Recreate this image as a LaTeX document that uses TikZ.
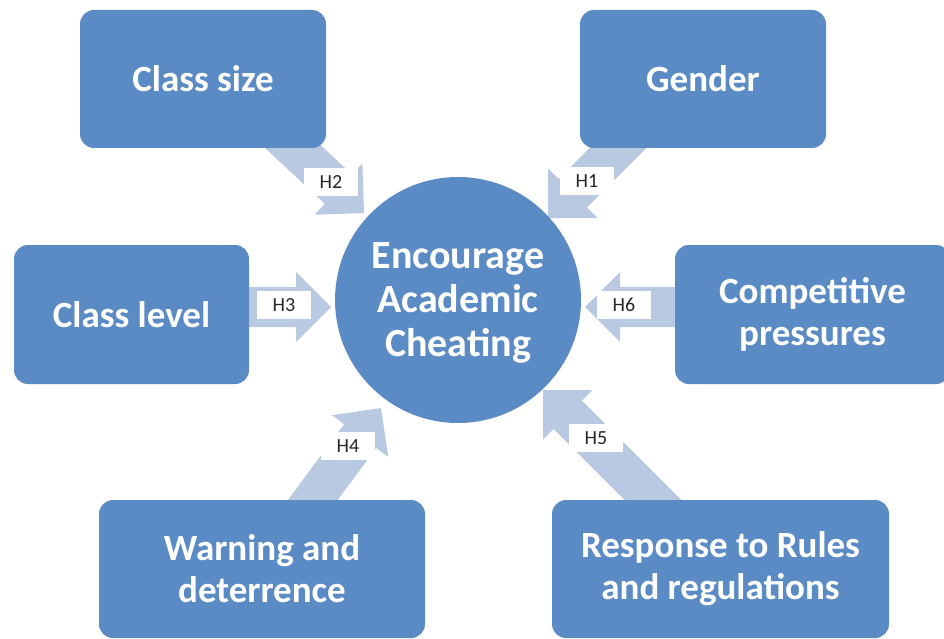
\documentclass[tikz,border=0pt]{standalone}
\usepackage{fontspec}
\setmainfont{Carlito}
\usetikzlibrary{calc}
\definecolor{boxblue}{RGB}{91,139,197}
\definecolor{arrowblue}{RGB}{185,201,226}

\begin{document}
\begin{tikzpicture}[x=1pt, y=-1pt,
	factor node/.style={shape=rectangle, fill=boxblue, rounded corners=14pt, inner sep=0, text=white, align=center, font=\fontsize{37}{42}\selectfont\bfseries},
	goal node/.style={shape=circle, fill=boxblue, minimum size=246pt, inner sep=0, text depth=0pt, text=white, align=center, font=\fontsize{40}{44}\selectfont\bfseries},
	hyp node/.style={shape=rectangle, fill=white, minimum width=54pt, minimum height=28pt, inner sep=0, text=black!85, font=\fontsize{20}{24}\selectfont}, ]
		\useasboundingbox (0,0) rectangle (944,639);
		
		%arrow ends (tail hidden under the boxes)
		\coordinate (t1) at (650,116); \coordinate (h1) at (548,218);
		\coordinate (t2) at (259,115); \coordinate (h2) at (364,213);
		\coordinate (t3) at (240,307); \coordinate (h3) at (331,307);
		\coordinate (t4) at (295,524); \coordinate (h4) at (381,408);
		\coordinate (t5) at (668,515); \coordinate (h5) at (543,390);
		\coordinate (t6) at (685,307); \coordinate (h6) at (585,307);
		
		%block arrows
		\foreach \n in {1,...,6}
		{
			\coordinate (b\n) at ($(h\n)!35pt!(t\n)$);
			\fill[arrowblue] ($(t\n)!20pt!90:(h\n)$) -- ($(b\n)!20pt!90:(h\n)$) -- ($(b\n)!35pt!90:(h\n)$) -- (h\n)
				-- ($(b\n)!35pt!-90:(h\n)$) -- ($(b\n)!20pt!-90:(h\n)$) -- ($(t\n)!20pt!-90:(h\n)$) -- cycle;
		}
		
		%factors
		\node[goal node] (goal) at (458,300){Encourage\\Academic\\Cheating};
		\node[factor node, minimum width=246pt, minimum height=138pt] (size) at (203,79){Class size};
		\node[factor node, minimum width=246pt, minimum height=138pt] (gender) at (703,79){Gender};
		\node[factor node, minimum width=235pt, minimum height=139pt] (level) at (131.5,314.5){Class level};
		\node[factor node, minimum width=275pt, minimum height=139pt] (pressure) at (812.5,314.5){Competitive\\pressures};
		\node[factor node, minimum width=326pt, minimum height=138pt] (warning) at (262,569){Warning and\\deterrence};
		\node[factor node, minimum width=337pt, minimum height=138pt] (rules) at (720.5,569){Response to Rules\\and regulations};
		
		%hypotheses
		\node[hyp node] (H1) at (587,181){H1};
		\node[hyp node] (H2) at (331,182){H2};
		\node[hyp node] (H3) at (284,305){H3};
		\node[hyp node] (H4) at (348,446){H4};
		\node[hyp node] (H5) at (596,438){H5};
		\node[hyp node] (H6) at (624,305){H6};
		
\end{tikzpicture}
\end{document}
